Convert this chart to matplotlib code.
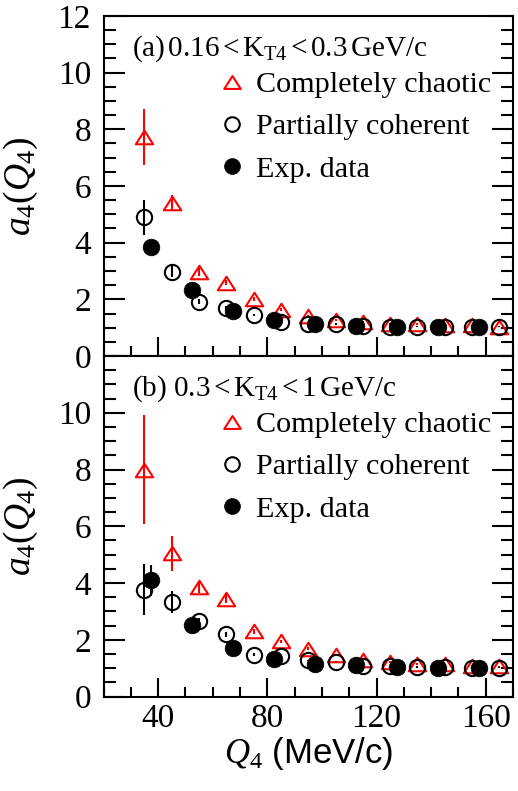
import numpy as np
import matplotlib
matplotlib.use("Agg")
import matplotlib.pyplot as plt
from matplotlib.path import Path
from matplotlib.ticker import MultipleLocator, FixedLocator

plt.rcParams['font.family'] = ['Liberation Serif', 'DejaVu Serif']
plt.rcParams['mathtext.fontset'] = 'custom'
plt.rcParams['mathtext.rm'] = 'Liberation Serif'
plt.rcParams['mathtext.it'] = 'Liberation Serif:italic'
plt.rcParams['mathtext.bf'] = 'Liberation Serif:bold'

# ---------------- data ----------------
q_model = [35, 45, 55, 65, 75, 85, 95, 105, 115, 125, 135, 145, 155, 165]
q_exp = [37.5, 52.5, 67.5, 82.5, 97.5, 112.5, 127.5, 142.5, 157.5]

# panel (a) 0.16 < KT4 < 0.3 GeV/c
chaotic_a = [7.73, 5.40, 2.98, 2.59, 2.01, 1.63, 1.41, 1.27, 1.19, 1.13, 1.12, 1.10, 1.08, 1.04]
chaotic_a_err = [1.0, 0.28, 0.15, 0.1, 0.07, 0.05, 0.04, 0.03, 0.03, 0.03, 0.03, 0.03, 0.03, 0.03]
coherent_a = [4.89, 2.98, 1.92, 1.71, 1.45, 1.21, 1.12, 1.13, 1.07, 1.04, 1.04, 1.04, 1.04, 1.04]
coherent_a_err = [0.63, 0.2, 0.1, 0.05, 0.04, 0.03, 0.03, 0.02, 0.02, 0.02, 0.02, 0.02, 0.02, 0.02]
exp_a = [3.84, 2.33, 1.59, 1.27, 1.13, 1.06, 1.04, 1.04, 1.01]
exp_a_err = [0.1, 0.05, 0.03, 0.02, 0.02, 0.01, 0.01, 0.01, 0.01]

# panel (b) 0.3 < KT4 < 1 GeV/c
chaotic_b = [7.99, 5.04, 3.86, 3.45, 2.30, 1.94, 1.69, 1.45, 1.30, 1.21, 1.15, 1.13, 1.09, 1.06]
chaotic_b_err = [1.92, 0.6, 0.2, 0.15, 0.08, 0.06, 0.05, 0.04, 0.04, 0.03, 0.03, 0.03, 0.03, 0.03]
coherent_b = [3.77, 3.33, 2.65, 2.19, 1.47, 1.42, 1.27, 1.21, 1.07, 1.06, 1.04, 1.04, 1.02, 1.02]
coherent_b_err = [0.9, 0.38, 0.1, 0.1, 0.05, 0.04, 0.03, 0.03, 0.02, 0.02, 0.02, 0.02, 0.02, 0.02]
exp_b = [4.10, 2.51, 1.72, 1.33, 1.13, 1.10, 1.04, 1.02, 1.02]
exp_b_err = [0.55, 0.08, 0.04, 0.03, 0.02, 0.02, 0.01, 0.01, 0.01]

panel_labels = [r'(a)$\,$0.16$\,$<$\,$K$_{\rm T4}$$\,$<$\,$0.3$\,$GeV/c',
                r'(b) 0.3$\,$<$\,$K$_{\rm T4}$$\,$<$\,$1$\,$GeV/c']
legend_labels = ['Completely chaotic', 'Partially coherent', 'Exp. data']

# ---------------- figure ----------------
W, H = 518, 791
fig = plt.figure(figsize=(W / 100, H / 100), dpi=100)
left, right = 103.5 / W, 513 / W
top_px, mid_px, bot_px = 16, 356, 696.5
ax_a = fig.add_axes([left, 1 - mid_px / H, right - left, (mid_px - top_px) / H])
ax_b = fig.add_axes([left, 1 - bot_px / H, right - left, (bot_px - mid_px) / H])

tri = Path([(0, 0.78), (-1, -0.78), (1, -0.78), (0, 0.78)],
           [Path.MOVETO, Path.LINETO, Path.LINETO, Path.CLOSEPOLY])

def draw(ax, ch, che, co, coe, ex, exe, label, show_x):
    ax.errorbar(q_model, ch, yerr=che, fmt='none', ecolor='red', elinewidth=1.5, capsize=0, zorder=2)
    h1, = ax.plot(q_model, ch, linestyle='none', marker=tri, markersize=12.5, mfc='none',
                  mec='red', mew=1.5, zorder=3)
    ax.errorbar(q_model, co, yerr=coe, fmt='none', ecolor='black', elinewidth=1.5, capsize=0, zorder=2)
    h2, = ax.plot(q_model, co, linestyle='none', marker='o', markersize=11, mfc='none',
                  mec='black', mew=1.5, zorder=3)
    ax.errorbar(q_exp, ex, yerr=exe, fmt='none', ecolor='black', elinewidth=1.5, capsize=0, zorder=2)
    h3, = ax.plot(q_exp, ex, linestyle='none', marker='o', markersize=12, mfc='black',
                  mec='black', mew=0.5, zorder=4)
    ax.set_xlim(20, 170)
    ax.set_ylim(0, 12)
    ax.xaxis.set_major_locator(FixedLocator([40, 80, 120, 160]))
    ax.xaxis.set_minor_locator(MultipleLocator(10))
    ax.yaxis.set_major_locator(MultipleLocator(2))
    ax.yaxis.set_minor_locator(MultipleLocator(0.5))
    ax.tick_params(which='both', direction='in', left=True, right=True, bottom=True, top=False,
                   width=1.5, labelsize=24)
    ax.tick_params(axis='y', which='major', length=15, pad=9)
    ax.tick_params(axis='y', which='minor', length=8.5)
    ax.tick_params(axis='x', which='major', length=14, pad=5)
    ax.tick_params(axis='x', which='minor', length=7)
    if not show_x:
        ax.tick_params(axis='x', labelbottom=False)
    for s in ax.spines.values():
        s.set_linewidth(1.5)
    ax.set_ylabel(r'$a_4(Q_4)$', fontsize=27)
    ax.yaxis.set_label_coords(-0.155, 0.5)
    ax.text(0.07, 0.905, label, transform=ax.transAxes, fontsize=21, ha='left', va='center')
    ax.legend([h1, h2, h3], legend_labels, loc='upper left', bbox_to_anchor=(0.28, 0.838),
              frameon=False, fontsize=21.7, handlelength=0.9, handletextpad=0.35,
              labelspacing=0.5, borderpad=0, borderaxespad=0, markerscale=0.95)
    return ax

draw(ax_a, chaotic_a, chaotic_a_err, coherent_a, coherent_a_err, exp_a, exp_a_err, panel_labels[0], False)
draw(ax_b, chaotic_b, chaotic_b_err, coherent_b, coherent_b_err, exp_b, exp_b_err, panel_labels[1], True)

# hide "12" in lower panel
ax_b.set_yticks([0, 2, 4, 6, 8, 10])
ax_b.set_ylim(0, 12)

ax_b.set_xlabel(r'$Q_4$ (MeV/c)', fontsize=25, family=['Liberation Sans'], labelpad=1)

fig.savefig('out.png', dpi=100)
